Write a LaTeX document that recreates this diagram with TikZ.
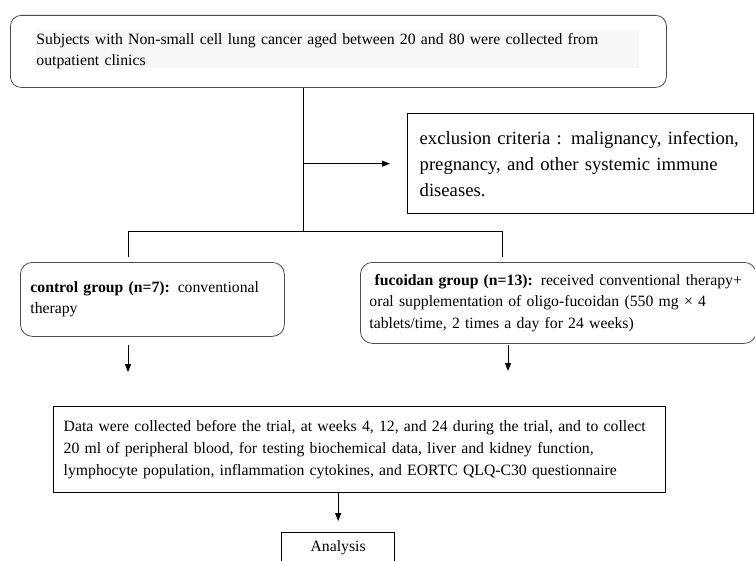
\documentclass[tikz,border=0pt]{standalone}
\usepackage{fontspec}
\setmainfont{Liberation Serif}
\usetikzlibrary{arrows.meta}

\begin{document}
\begin{tikzpicture}[x=0.75pt,y=-0.75pt,
    rbox/.style={draw=black!70, line width=0.6pt, rounded corners=8pt, anchor=north west, align=left, font=\fontsize{11.8}{16}\selectfont},
    sbox/.style={draw, line width=1pt, anchor=north west, align=left, font=\fontsize{11.8}{16.5}\selectfont},
    arr/.style={-{Triangle[length=6pt,width=4.5pt]}, line width=0.75pt}]
    \useasboundingbox (0,0) rectangle (755,560);
    % faint highlight behind the first text
    \fill[black!3] (36,31) rectangle (639,68);
    \node[rbox, minimum width=492pt, minimum height=54pt, text width=453pt, inner xsep=19.5pt] (subj) at (10,15)
        {Subjects with Non-small cell lung cancer aged between 20 and 80 were collected from\\ outpatient clinics};
    \node[sbox, font=\fontsize{14}{19.5}\selectfont, minimum width=259.5pt, minimum height=75pt, text width=241.5pt, inner xsep=9pt] (excl) at (407,113)
        {\makebox[241.5pt][s]{exclusion criteria : malignancy, infection,}\\ \makebox[229.5pt][s]{pregnancy, and other systemic immune}\\ diseases.};
    \node[rbox, rounded corners=9pt, minimum width=198pt, minimum height=55.5pt, text width=183pt, inner xsep=7.5pt] (ctrl) at (20,262)
        {\textbf{control group (n=7):} conventional\\ therapy};
    \node[rbox, rounded corners=9pt, minimum width=297pt, minimum height=60.75pt, text width=283.5pt, inner xsep=6.75pt] (fuco) at (360,262)
        {\hspace*{4pt}\textbf{fucoidan group (n=13):} received conventional therapy+\\ oral supplementation of oligo-fucoidan (550 mg × 4\\ tablets/time, 2 times a day for 24 weeks)};
    \node[sbox, minimum width=459pt, minimum height=64.5pt, text width=444pt, inner xsep=7.5pt] (data) at (53,406)
        {Data were collected before the trial, at weeks 4, 12, and 24 during the trial, and to collect\\ 20 ml of peripheral blood, for testing biochemical data, liver and kidney function,\\ lymphocyte population, inflammation cytokines, and EORTC QLQ-C30 questionnaire};
    \node[sbox, align=center, minimum width=84.75pt, minimum height=23.25pt] (ana) at (281,532) {Analysis};

    \coordinate (junc) at (303,231);
    \coordinate (bl) at (128,231);
    \coordinate (br) at (502,231);
    \draw[line width=0.75pt] (subj.south -| junc) -- (junc);
    \draw[arr, shorten >=12.75pt] (junc |- excl.west) -- (excl.west);
    \draw[line width=0.75pt, shorten <=3.75pt, shorten >=3.75pt] (bl |- ctrl.north) -- (bl) -- (br) -- (br |- fuco.north);
    \draw[arr, shorten <=6pt, shorten >=25.5pt] (ctrl.south -| bl) -- (data.north -| bl);
    \draw[arr, shorten <=0.75pt, shorten >=26.25pt] (fuco.south -| 508,0) -- (data.north -| 508,0);
    \draw[arr, shorten >=8.25pt] (data.south -| ana.north) -- (ana.north);
\end{tikzpicture}
\end{document}
